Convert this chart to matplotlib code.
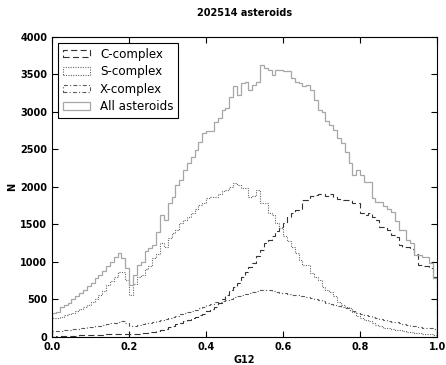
import numpy as np
import matplotlib.pyplot as plt

# G12 histogram, 100 bins between 0 and 1
edges = np.linspace(0.0, 1.0, 101)
centers = edges[:-1] + 0.005

c_complex = [5, 8, 10, 12, 15, 15, 18, 20, 22, 25,
             25, 28, 30, 30, 32, 35, 35, 38, 40, 40,
             35, 40, 45, 50, 55, 60, 70, 80, 95, 110,
             130, 150, 170, 190, 210, 230, 250, 270, 290, 310,
             340, 370, 400, 450, 500, 560, 620, 670, 720, 800,
             870, 930, 980, 1080, 1160, 1250, 1290, 1340, 1410, 1470,
             1520, 1600, 1650, 1690, 1700, 1830, 1830, 1880, 1890, 1900,
             1900, 1880, 1910, 1870, 1840, 1830, 1830, 1820, 1790, 1780,
             1650, 1620, 1650, 1600, 1560, 1470, 1470, 1430, 1360, 1330,
             1230, 1200, 1200, 1170, 1100, 960, 940, 940, 920, 800]

s_complex = [250, 255, 270, 290, 300, 320, 340, 370, 400, 430,
             470, 510, 560, 610, 690, 740, 800, 860, 870, 760,
             560, 700, 800, 830, 900, 950, 1050, 1100, 1250, 1200,
             1320, 1380, 1430, 1520, 1560, 1600, 1650, 1700, 1760, 1790,
             1850, 1860, 1870, 1900, 1940, 1960, 2000, 2050, 2030, 1980,
             1980, 1870, 1880, 1960, 1780, 1780, 1650, 1620, 1520, 1450,
             1340, 1280, 1200, 1120, 1030, 960, 960, 850, 800, 760,
             670, 620, 600, 540, 470, 430, 400, 380, 330, 280,
             250, 230, 210, 180, 160, 140, 125, 116, 105, 95,
             90, 80, 71, 65, 55, 49, 45, 40, 35, 30]

x_complex = [75, 80, 85, 90, 95, 100, 110, 115, 120, 130,
             135, 140, 150, 160, 170, 180, 190, 200, 210, 180,
             140, 150, 160, 170, 180, 190, 200, 210, 225, 240,
             255, 270, 285, 300, 315, 330, 345, 360, 380, 400,
             420, 440, 460, 470, 480, 495, 510, 530, 545, 560,
             575, 590, 600, 610, 620, 625, 620, 610, 600, 590,
             580, 570, 560, 555, 545, 540, 530, 520, 505, 490,
             475, 455, 440, 425, 410, 395, 380, 360, 340, 320,
             310, 295, 280, 270, 255, 240, 225, 215, 205, 195,
             180, 170, 160, 150, 140, 130, 125, 120, 115, 110]

all_asteroids = [320, 330, 400, 420, 450, 500, 540, 590, 620, 680,
                 720, 780, 830, 880, 950, 1000, 1060, 1120, 1050, 920,
                 690, 830, 960, 1000, 1140, 1190, 1230, 1400, 1620, 1560,
                 1790, 1870, 2030, 2090, 2230, 2320, 2400, 2490, 2600, 2720,
                 2740, 2740, 2870, 2920, 3030, 3050, 3200, 3340, 3230, 3390,
                 3400, 3290, 3360, 3400, 3630, 3590, 3560, 3490, 3560, 3560,
                 3540, 3540, 3450, 3400, 3390, 3340, 3360, 3290, 3160, 3030,
                 3000, 2880, 2830, 2760, 2650, 2580, 2470, 2320, 2160, 2230,
                 2160, 2070, 2070, 1850, 1800, 1800, 1740, 1700, 1670, 1540,
                 1430, 1420, 1290, 1250, 1090, 1090, 1070, 1070, 990, 780]

fig = plt.figure(figsize=(4.46, 3.65), dpi=100)
ax = fig.add_axes([0.117, 0.077, 0.863, 0.822])

ax.hist(centers, bins=edges, weights=c_complex, histtype='step',
        color='0.2', lw=0.8, linestyle=(0, (5.5, 3)), label='C-complex')
ax.hist(centers, bins=edges, weights=s_complex, histtype='step',
        color='0.4', lw=0.8, linestyle=(0, (1, 1.2)), label='S-complex')
ax.hist(centers, bins=edges, weights=x_complex, histtype='step',
        color='0.35', lw=0.8, linestyle=(0, (3.5, 2, 1, 2)), label='X-complex')
ax.hist(centers, bins=edges, weights=all_asteroids, histtype='step',
        color='0.65', lw=0.9, label='All asteroids')

ax.set_xlim(0, 1)
ax.set_ylim(0, 4000)
ax.set_xticks(np.arange(0, 1.01, 0.2))
ax.set_yticks(np.arange(0, 4001, 500))
ax.tick_params(direction='in', top=True, right=True, length=4, labelsize=7)
for lab in ax.get_xticklabels() + ax.get_yticklabels():
    lab.set_fontweight('bold')

ax.set_xlabel('G12', fontsize=7, fontweight='bold', labelpad=2)
ax.set_ylabel('N', fontsize=7, fontweight='bold', labelpad=2)
ax.set_title('202514 asteroids', fontsize=7, fontweight='bold', pad=15)

leg = ax.legend(loc='upper left', fontsize=8.6, fancybox=False, framealpha=1,
                handlelength=2.3, handleheight=0.6, labelspacing=0.38,
                borderaxespad=0.5, borderpad=0.4)
leg.get_frame().set_edgecolor('black')
leg.get_frame().set_linewidth(0.8)

plt.savefig('out.png', dpi=100)
